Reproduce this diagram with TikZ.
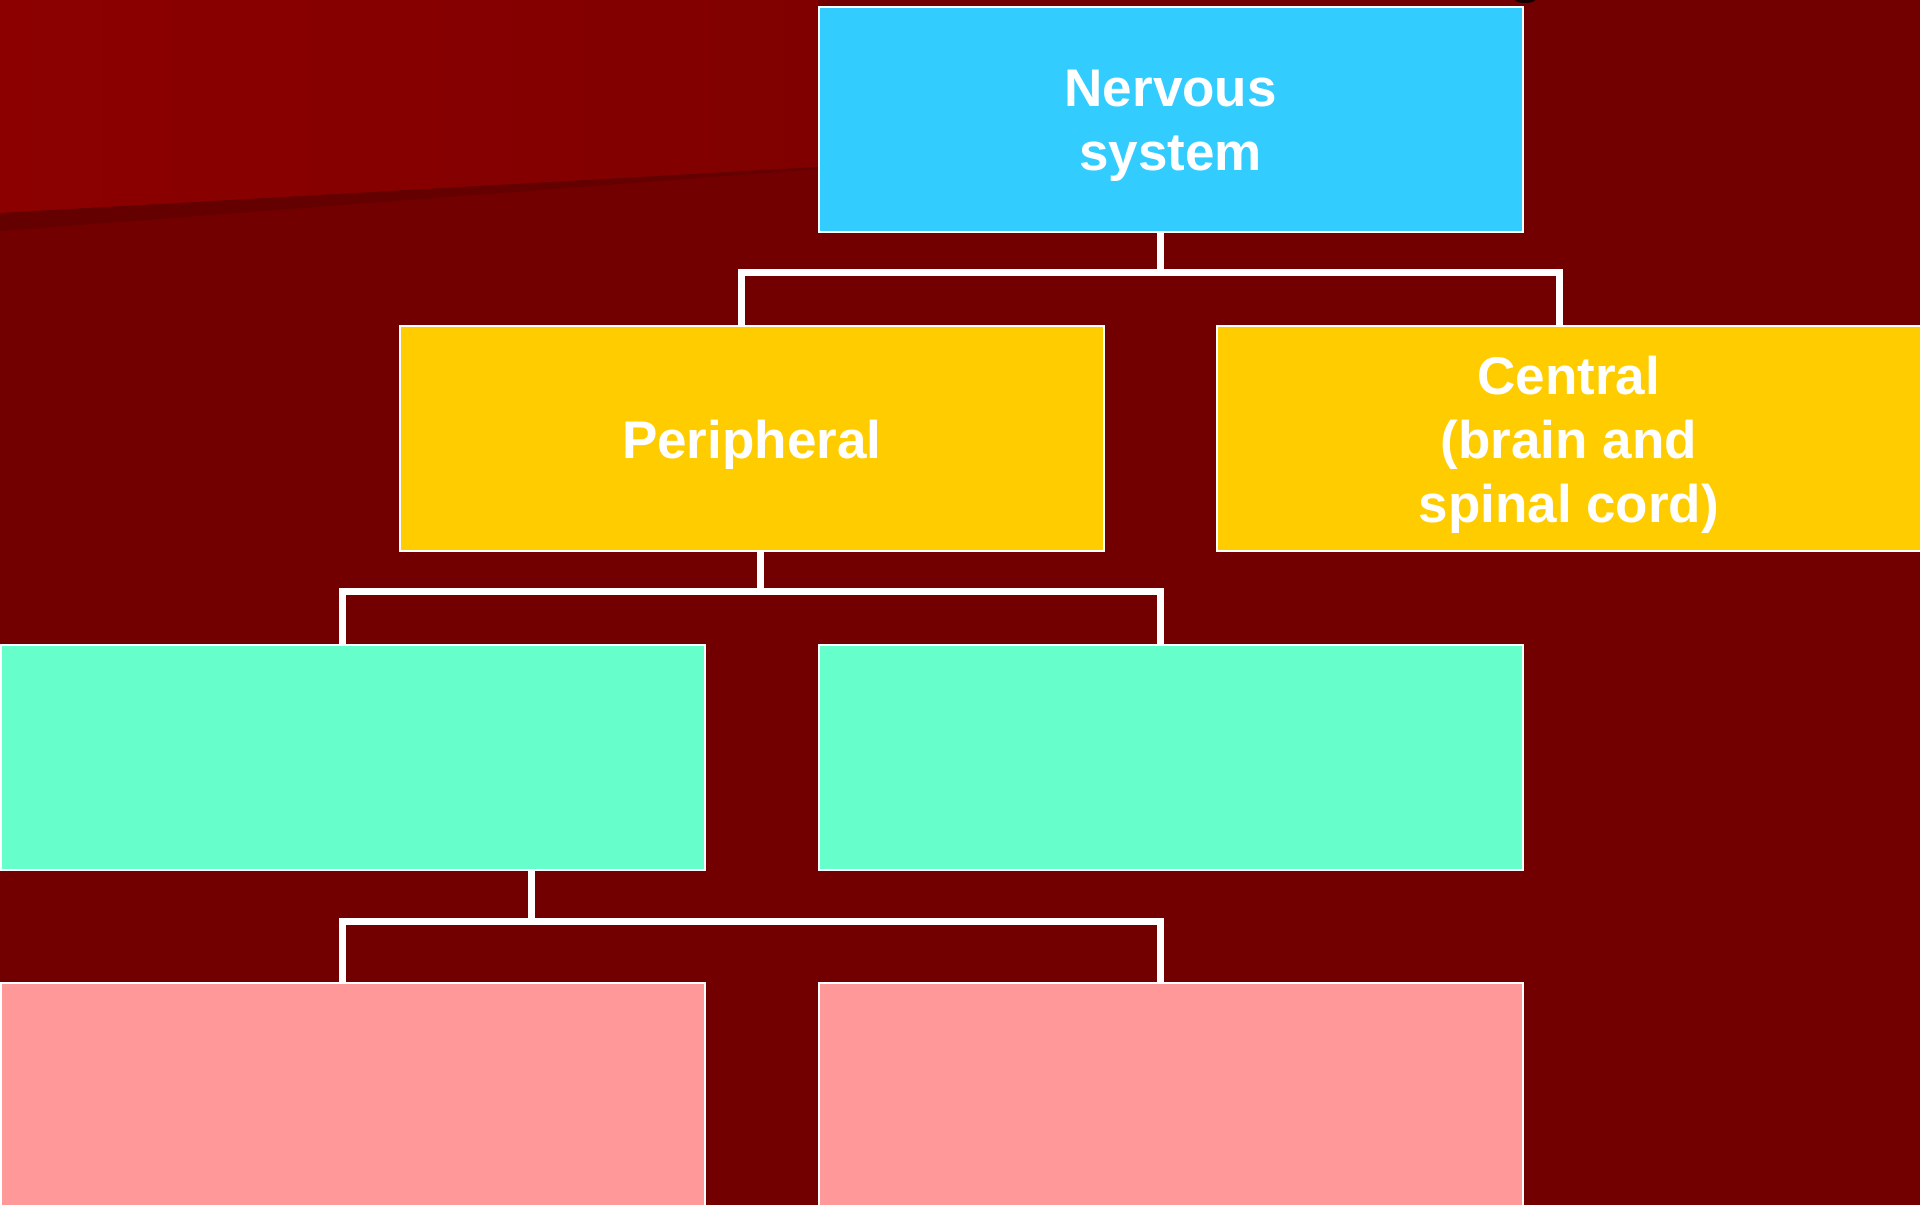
\documentclass[tikz,border=0pt]{standalone}
\usepackage{fontspec}
\setmainfont{Liberation Sans}
\usetikzlibrary{calc}
\definecolor{bgred}{HTML}{720000}
\definecolor{topredL}{HTML}{8C0000}
\definecolor{topredR}{HTML}{800000}
\definecolor{bandred}{HTML}{640000}
\definecolor{nblue}{HTML}{33CCFF}
\definecolor{nyellow}{HTML}{FFCC00}
\definecolor{ngreen}{HTML}{66FFCC}
\definecolor{npink}{HTML}{FF9999}
\begin{document}
\begin{tikzpicture}[x=1pt,y=-1pt,
  box/.style={draw=white, line width=1.5pt, minimum width=704pt, minimum height=225pt,
    anchor=north west, inner sep=0pt},
  txt/.style={inner sep=0pt, font=\bfseries\fontsize{53}{64}\selectfont,
    text=white, align=center},
  conn/.style={draw=white, line width=7pt, line join=miter}]
\useasboundingbox (0,0) rectangle (1920,1205);
\clip (0,0) rectangle (1920,1205);
\fill[bgred] (0,0) rectangle (1920,1205);
% upper-left lighter area
\shade[left color=topredL, right color=topredR] (0,0) -- (818,0) -- (818,167) -- (0,213) -- cycle;
\fill[bandred] (0,213) -- (818,167) -- (818,169) -- (0,231) -- cycle;
% small dark mark at top
\fill[black, opacity=0.8] (1525,0) ellipse [x radius=10, y radius=3];

\node[box, fill=nblue] (nerv) at (818,6) {};
\node[box, fill=nyellow] (periph) at (399,325) {};
\node[box, fill=nyellow] (central) at (1216,325) {};
\node[box, fill=ngreen] (gl) at (0,644) {};
\node[box, fill=ngreen] (gr) at (818,644) {};
\node[box, fill=npink] (pl) at (0,982) {};
\node[box, fill=npink] (pr) at (818,982) {};

\node[txt] (nervT) at ($(nerv.center)+(0,7)$) {Nervous\\system};
\node[txt] (periphT) at ($(periph.center)+(0,7)$) {Peripheral};
\node[txt] (centralT) at ($(central.center)+(0,7)$) {Central\\(brain and\\spinal cord)};

\coordinate (j1) at (1160,272);
\coordinate (j2) at (760,591);
\coordinate (j3) at (531,921);

\draw[conn] (j1 |- nerv.south) -- (j1);
\draw[conn] ($(periph.north)+(-10,0)$) |- (j1) -| ($(central.north)+(-9,0)$);

\draw[conn] (j2 |- periph.south) -- (j2);
\draw[conn] ($(gl.north)+(-10,0)$) |- (j2) -| ($(gr.north)+(-10,0)$);

\draw[conn] (j3 |- gl.south) -- (j3);
\draw[conn] ($(pl.north)+(-10,0)$) |- (j3) -| ($(pr.north)+(-10,0)$);
\end{tikzpicture}
\end{document}
